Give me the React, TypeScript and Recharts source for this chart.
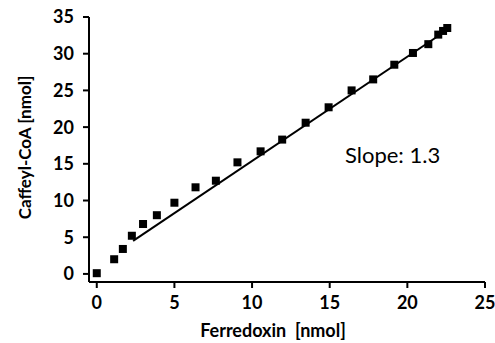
import React from "react";
import { ComposedChart, Scatter, XAxis, YAxis, Label } from "recharts";

// measured points: ferredoxin [nmol] vs caffeyl-CoA [nmol]
const FERREDOXIN = [0, 1.12, 1.68, 2.26, 2.98, 3.87, 5.0, 6.36, 7.67, 9.06, 10.55, 11.94, 13.45, 14.93, 16.41, 17.8, 19.16, 20.36, 21.35, 21.99, 22.3, 22.57];
const CAFFEYL_COA = [0.1, 2.0, 3.4, 5.2, 6.8, 8.0, 9.7, 11.8, 12.7, 15.2, 16.7, 18.3, 20.6, 22.7, 25.0, 26.5, 28.5, 30.1, 31.3, 32.6, 33.1, 33.5];

// linear fit, drawn between its two ends
const FIT_X = [2.34, 22.75];
const FIT_Y = [4.5, 33.5];

const X_TICKS = [0, 5, 10, 15, 20, 25];
const Y_TICKS = [0, 5, 10, 15, 20, 25, 30, 35];

const points = FERREDOXIN.map((x, i) => ({ x, y: CAFFEYL_COA[i] }));
const fit = FIT_X.map((x, i) => ({ x, y: FIT_Y[i] }));

const FONT = "Lato, 'Open Sans', sans-serif";
const tickStyle = { fontSize: 18, fontWeight: 700, fill: "#000", fontFamily: FONT };

function Square(props: any) {
  const { cx, cy } = props;
  if (cx == null || cy == null) return null;
  return <rect x={cx - 4} y={cy - 4} width={8} height={8} fill="#000" />;
}

export default function App() {
  return (
    <div style={{ position: "absolute", left: 0, top: 0, width: 495, height: 343, background: "#fff" }}>
      <ComposedChart
        width={495}
        height={343}
        margin={{ top: 17, right: 10, bottom: 21, left: 29 }}
      >
        <XAxis
          type="number"
          dataKey="x"
          domain={[-0.5, 25]}
          ticks={X_TICKS}
          interval={0}
          tick={tickStyle}
          tickSize={6}
          tickMargin={8}
          height={40}
          axisLine={{ stroke: "#000", strokeWidth: 2 }}
          tickLine={{ stroke: "#000", strokeWidth: 2 }}
        >
          <Label
            content={(p: any) => {
              const vb = p.viewBox;
              return (
                <text
                  x={vb.x + vb.width / 2 - 14}
                  y={337}
                  textAnchor="middle"
                  fontFamily={FONT}
                  fontSize={18}
                  fontWeight={700}
                  fill="#000"
                >
                  {"Ferredoxin\u00a0\u00a0[nmol]"}
                </text>
              );
            }}
          />
        </XAxis>
        <YAxis
          type="number"
          dataKey="y"
          domain={[-1.1, 35]}
          ticks={Y_TICKS}
          interval={0}
          tick={tickStyle}
          tickSize={6}
          tickMargin={9}
          width={60}
          axisLine={{ stroke: "#000", strokeWidth: 2 }}
          tickLine={{ stroke: "#000", strokeWidth: 2 }}
        >
          <Label
            content={(p: any) => {
              const vb = p.viewBox;
              const cx = 24;
              const cy = vb.y + vb.height / 2 - 2;
              return (
                <text
                  x={cx}
                  y={cy}
                  transform={`rotate(-90 ${cx} ${cy})`}
                  textAnchor="middle"
                  dominantBaseline="central"
                  fontFamily={FONT}
                  fontSize={17}
                  fontWeight={700}
                  fill="#000"
                >
                  Caffeyl-CoA [nmol]
                </text>
              );
            }}
          />
        </YAxis>
        <Scatter
          data={fit}
          line={{ stroke: "#000", strokeWidth: 2 }}
          shape={() => null}
          isAnimationActive={false}
        />
        <Scatter data={points} shape={<Square />} isAnimationActive={false} />
      </ComposedChart>
      <div
        style={{
          position: "absolute",
          left: 345,
          top: 142,
          fontFamily: FONT,
          fontSize: 22,
          color: "#000",
          lineHeight: "26px",
          whiteSpace: "nowrap",
        }}
      >
        Slope: 1.3
      </div>
    </div>
  );
}
